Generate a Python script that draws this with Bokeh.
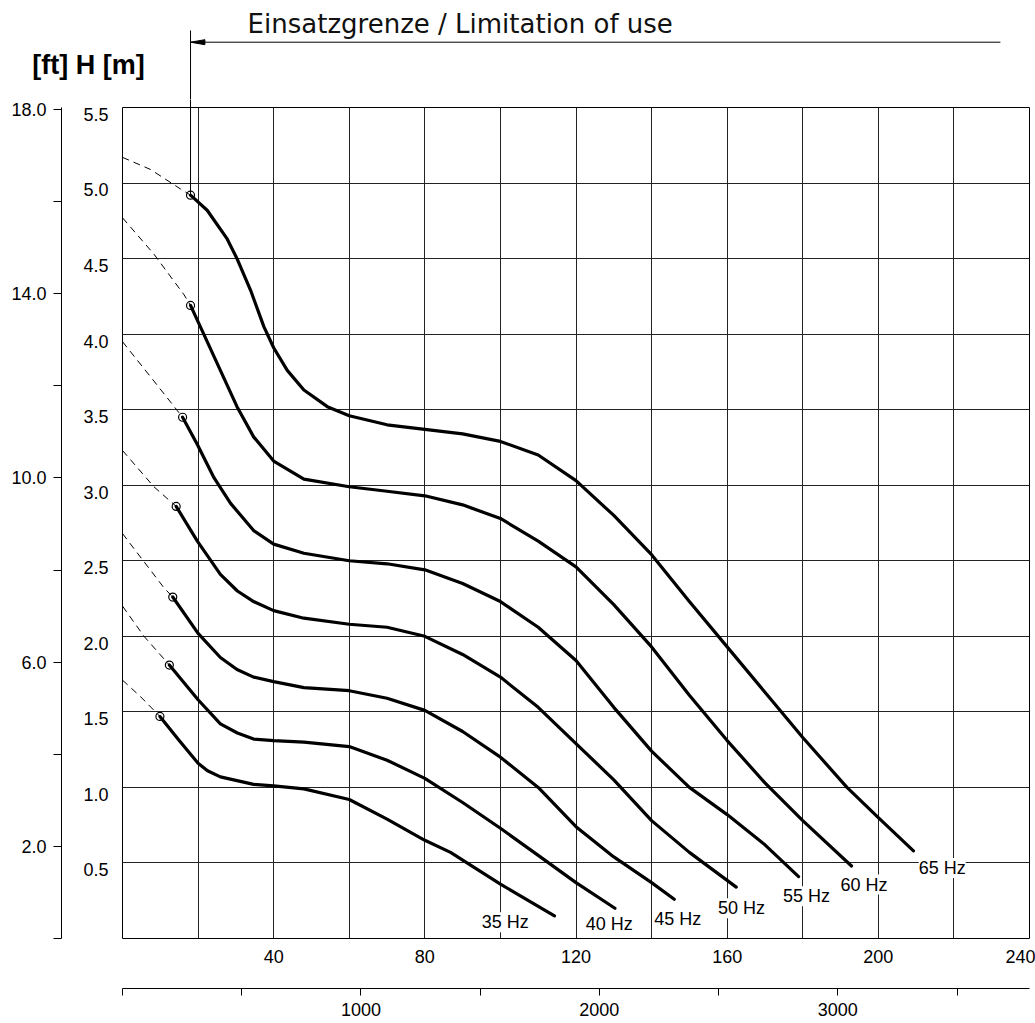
from bokeh.plotting import figure
from bokeh.layouts import column, row
from bokeh.models import (Range1d, LinearAxis, FixedTicker, Grid, PrintfTickFormatter,
                          LabelSet, ColumnDataSource)
from bokeh.core.properties import value
from bokeh.embed import file_html
from bokeh.resources import INLINE

# ---------------- data (Q in l/s, H in m) ----------------
FREQS = ["35 Hz", "40 Hz", "45 Hz", "50 Hz", "55 Hz", "60 Hz", "65 Hz"]

Q_35 = [9.9, 15.0, 20, 22.5, 25.9, 34.7, 40, 48, 60, 70, 80, 86.8, 100, 114.3]
H_35 = [1.47, 1.31, 1.16, 1.11, 1.07, 1.02, 1.01, 0.99, 0.92, 0.79, 0.65, 0.57, 0.36, 0.15]

Q_40 = [12.4, 20, 25.9, 30.4, 34.7, 40, 48, 60, 70, 80, 90, 100, 110, 120, 130.3]
H_40 = [1.81, 1.58, 1.42, 1.36, 1.32, 1.31, 1.30, 1.27, 1.18, 1.06, 0.90, 0.73, 0.55, 0.37, 0.20]

Q_45 = [13.3, 20, 25.9, 30.3, 34.7, 40, 48, 60, 70, 80, 90, 100, 110, 120, 130, 140, 146.0]
H_45 = [2.26, 2.02, 1.86, 1.78, 1.73, 1.70, 1.66, 1.64, 1.59, 1.51, 1.37, 1.20, 1.00, 0.74, 0.54, 0.37, 0.26]

Q_50 = [14.2, 19.8, 25.9, 30.4, 34.7, 40, 48, 60, 70, 80, 90, 100, 110, 120, 130, 140, 150, 162.4]
H_50 = [2.86, 2.63, 2.41, 2.30, 2.23, 2.17, 2.12, 2.08, 2.06, 2.00, 1.88, 1.73, 1.53, 1.29, 1.05, 0.78, 0.57, 0.34]

Q_55 = [15.9, 19.8, 24.2, 28.6, 34.7, 40, 48, 60, 70, 80, 90, 100, 110, 120, 130, 140, 150, 160, 170, 178.9]
H_55 = [3.45, 3.27, 3.05, 2.88, 2.70, 2.61, 2.55, 2.50, 2.48, 2.44, 2.35, 2.23, 2.06, 1.84, 1.53, 1.24, 1.00, 0.82, 0.62, 0.41]

Q_60 = [18.0, 21.5, 25.9, 30.3, 34.7, 40, 48, 60, 70, 80, 90, 100, 110, 120, 130, 140, 150, 160, 170, 180, 192.9]
H_60 = [4.19, 4.00, 3.76, 3.52, 3.32, 3.16, 3.04, 2.99, 2.96, 2.93, 2.87, 2.78, 2.63, 2.46, 2.21, 1.93, 1.61, 1.31, 1.03, 0.78, 0.48]

Q_65 = [18.0, 22.4, 27.7, 30.3, 33.9, 37.4, 40, 43.6, 48, 54.2, 60, 70, 80, 90, 100, 110, 120, 130,
        140, 150, 160, 170, 180, 191.7, 200, 209.3]
H_65 = [4.92, 4.82, 4.63, 4.50, 4.29, 4.05, 3.91, 3.76, 3.63, 3.52, 3.46, 3.40, 3.37, 3.34, 3.29, 3.20,
        3.03, 2.80, 2.54, 2.23, 1.93, 1.63, 1.33, 1.00, 0.80, 0.58]

# dashed extensions (outside the limit of use)
QX_35 = [0, 4.8, 9.9];          HX_35 = [1.71, 1.60, 1.47]
QX_40 = [0, 5.7, 12.4];         HX_40 = [2.20, 2.00, 1.81]
QX_45 = [0, 11.0, 13.3];        HX_45 = [2.68, 2.32, 2.26]
QX_50 = [0, 8.3, 14.2];         HX_50 = [3.23, 2.99, 2.86]
QX_55 = [0, 8.3, 15.9];         HX_55 = [3.95, 3.69, 3.45]
QX_60 = [0, 8.3, 16.3, 18.0];   HX_60 = [4.77, 4.53, 4.26, 4.19]
QX_65 = [0, 7.4, 15.4, 18.0];   HX_65 = [5.17, 5.09, 4.96, 4.92]

LIMIT_Q = 18.0          # limit of use (l/s)
LIMIT_ARROW_END = 232.3 # right end of the limit arrow (l/s)

X_TICKS = [40, 80, 120, 160, 200, 240]
X_GRID = [20, 40, 60, 80, 100, 120, 140, 160, 180, 200, 220]
Y_TICKS = [0.5, 1.0, 1.5, 2.0, 2.5, 3.0, 3.5, 4.0, 4.5, 5.0, 5.5]
Y_GRID = [0.5, 1.0, 1.5, 2.0, 2.5, 3.0, 3.5, 4.0, 4.5, 5.0]
FT_TICKS = [2, 6, 10, 14, 18]
FT_MINOR = [0, 4, 8, 12, 16]
GPM_TICKS = [1000, 2000, 3000]
GPM_MINOR = [0, 500, 1500, 2500, 3500]

TITLE = "Einsatzgrenze / Limitation of use"
UNIT_TITLE = "[ft] H  [m]"

# ---------------- layout ----------------
LBL_Q = [101.3, 128.8, 146.9, 163.8, 181.0, 196.2, 216.9]
LBL_H = [0.108, 0.097, 0.13, 0.20, 0.28, 0.357, 0.467]

FONT = "Liberation Sans"
W, H_TOTAL = 1035, 1023
FRAME_L, FRAME_R = 122, 1029      # plot frame, left/right
FT_LINE = 61                      # x of the feet axis line
HEAD_H = 99                       # header strip height
TOP_B, BOT_B = 8, 49              # main chart borders
FRAME_H = 831
MAIN_H = TOP_B + FRAME_H + BOT_B
GPM_H = H_TOTAL - HEAD_H - MAIN_H
PX = (FRAME_R - FRAME_L) / 240.0

common = dict(x_axis_type=None, y_axis_type=None, output_backend="svg", toolbar_location=None,
              background_fill_color="white", border_fill_color="white")

# ---------- header strip (texts and the limit-of-use arrow) ----------
hd = figure(width=W, height=HEAD_H, x_range=Range1d(-FRAME_L / PX, (W - FRAME_L) / PX),
            y_range=Range1d(HEAD_H, 0), min_border=0, min_border_left=0, min_border_right=0,
            min_border_top=0, min_border_bottom=0, outline_line_color=None, **common)
hd.frame_align = False
hd.text(x=[33.1], y=[23], text=[TITLE], text_font=value("DejaVu Sans"), text_font_size="26px",
        text_align="left", text_baseline="middle", text_color="#111111")
hd.text(x=[-23.9], y=[64], text=[UNIT_TITLE], text_font=value(FONT), text_font_size="27px",
        text_font_style="bold", text_align="left", text_baseline="middle", text_color="black")
hd.segment(x0=[LIMIT_Q, LIMIT_Q], y0=[30, 41.7], x1=[LIMIT_Q, LIMIT_ARROW_END], y1=[HEAD_H, 41.7],
           line_color="black", line_width=1)
hd.patch(x=[LIMIT_Q, LIMIT_Q + 3.8, LIMIT_Q + 3.8], y=[41.7, 39.2, 44.2],
         fill_color="black", line_color="black", line_width=1)

def style(ax, size="18px"):
    ax.major_label_text_font = FONT
    ax.major_label_text_font_size = size
    ax.major_label_text_color = "black"
    ax.axis_line_color = "black"
    ax.major_tick_line_color = "black"
    ax.minor_tick_line_color = "black"
    ax.major_tick_in = 0
    ax.minor_tick_in = 0

# ---------- feet axis strip ----------
ftf = figure(width=FT_LINE + 1, height=MAIN_H, x_range=Range1d(0, 1), y_range=Range1d(0, 5.5 / 0.3048),
             min_border_left=FT_LINE, min_border_right=0, min_border_top=TOP_B, min_border_bottom=BOT_B,
             outline_line_color=None, **common)
ftf.frame_align = False
fax = LinearAxis(ticker=FixedTicker(ticks=FT_TICKS, minor_ticks=FT_MINOR),
                 formatter=PrintfTickFormatter(format="%.1f"))
style(fax)
fax.major_tick_out = 8
fax.minor_tick_out = 8
fax.major_label_standoff = 7
ftf.add_layout(fax, "left")

# ---------- main chart ----------
p = figure(width=W - FT_LINE - 1, height=MAIN_H, x_range=Range1d(0, 240), y_range=Range1d(0, 5.5),
           min_border_left=FRAME_L - FT_LINE - 1, min_border_right=W - FRAME_R,
           min_border_top=TOP_B, min_border_bottom=BOT_B,
           outline_line_color="black", outline_line_width=1, **common)
p.frame_align = False
p.extra_y_ranges = {"mlab": Range1d(0.046, 5.546)}

p.add_layout(Grid(dimension=0, ticker=FixedTicker(ticks=X_GRID), grid_line_color="#222222", grid_line_width=1))
p.add_layout(Grid(dimension=1, ticker=FixedTicker(ticks=Y_GRID), grid_line_color="#222222", grid_line_width=1))

# limit-of-use line continuing through the top border (a single minor tick)
vax = LinearAxis(ticker=FixedTicker(ticks=[], minor_ticks=[LIMIT_Q]))
style(vax)
vax.axis_line_color = None
vax.major_tick_out = 0
vax.minor_tick_out = TOP_B
vax.major_label_standoff = 0
p.add_layout(vax, "above")

# main Q axis (l/s)
xax = LinearAxis(ticker=FixedTicker(ticks=X_TICKS))
style(xax)
xax.axis_line_color = None
xax.major_tick_out = 0
xax.minor_tick_out = 0
xax.major_label_standoff = 11
p.add_layout(xax, "below")

# H axis (m)
yax = LinearAxis(y_range_name="mlab", ticker=FixedTicker(ticks=Y_TICKS),
                 formatter=PrintfTickFormatter(format="%.1f"))
style(yax)
yax.axis_line_color = None
yax.major_tick_out = 0
yax.minor_tick_out = 0
yax.major_label_standoff = 14
p.add_layout(yax, "left")

curves = [(Q_35, H_35, QX_35, HX_35), (Q_40, H_40, QX_40, HX_40), (Q_45, H_45, QX_45, HX_45),
          (Q_50, H_50, QX_50, HX_50), (Q_55, H_55, QX_55, HX_55), (Q_60, H_60, QX_60, HX_60),
          (Q_65, H_65, QX_65, HX_65)]

start_q, start_h = [], []
for q, h, qx, hx in curves:
    p.line(qx, hx, line_color="black", line_width=1, line_dash="7 5")
    p.line(q, h, line_color="black", line_width=3.2, line_join="round", line_cap="round")
    start_q.append(q[0])
    start_h.append(h[0])

p.segment(x0=[LIMIT_Q], y0=[5.5], x1=[LIMIT_Q], y1=[H_65[0]], line_color="black", line_width=1)

p.scatter(start_q, start_h, marker="circle", size=8, fill_color=None,
          line_color="black", line_width=1.2)

src = ColumnDataSource(dict(x=LBL_Q, y=LBL_H, t=FREQS))
p.add_layout(LabelSet(x="x", y="y", text="t", source=src, text_align="center",
                      text_baseline="middle", text_font=value(FONT), text_font_size="18px",
                      text_color="black", background_fill_color="white"))

# ---------- US gpm axis strip ----------
gf = figure(width=W, height=GPM_H, x_range=Range1d(0, 240 * 15.8503), y_range=Range1d(0, 1),
            min_border_left=FRAME_L, min_border_right=W - FRAME_R, min_border_top=0,
            min_border_bottom=GPM_H - 1, outline_line_color=None, **common)
gf.frame_align = False
gax = LinearAxis(ticker=FixedTicker(ticks=GPM_TICKS, minor_ticks=GPM_MINOR))
style(gax)
gax.major_tick_out = 7
gax.minor_tick_out = 7
gax.major_label_standoff = 7
gf.add_layout(gax, "below")

layout = column(hd, row(ftf, p, spacing=0), gf, spacing=0)
open("out.html", "w").write(file_html(layout, INLINE))
